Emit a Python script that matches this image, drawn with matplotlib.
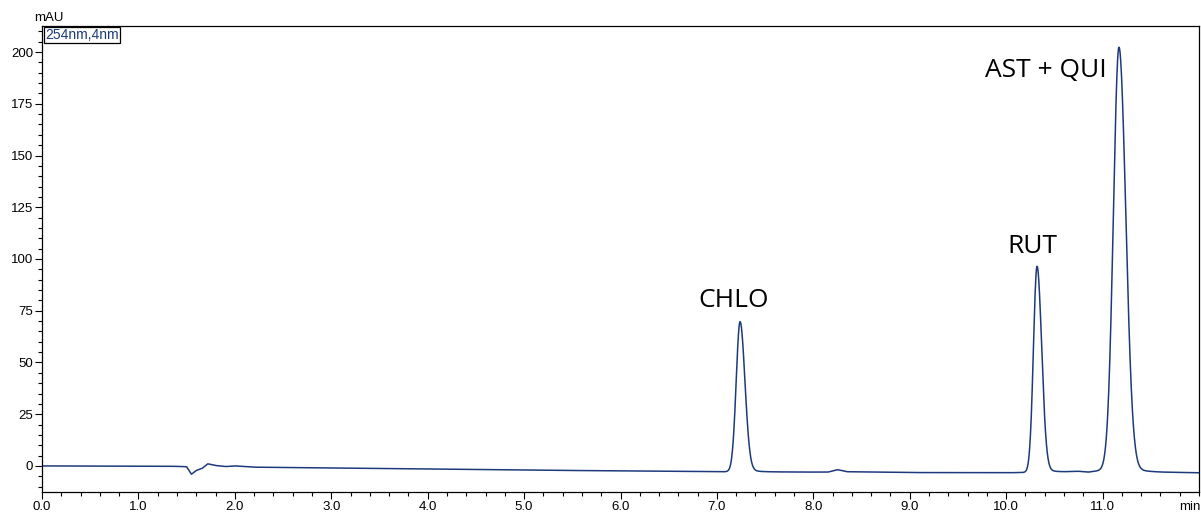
import numpy as np
import matplotlib
matplotlib.use("Agg")
import matplotlib.pyplot as plt
from matplotlib.ticker import MultipleLocator, FormatStrFormatter

# Peak table (retention time in min, height in mAU above baseline, widths in min)
peak_names = ["CHLO", "RUT", "AST + QUI"]
peak_times = [7.24, 10.32, 11.17]
peak_heights = [72.5, 99.5, 204.5]
peak_sigma_left = [0.040, 0.037, 0.058]
peak_sigma_right = [0.050, 0.048, 0.070]
peak_tail_height = [2.5, 3.0, 5.0]
peak_tail_tau = [0.09, 0.09, 0.10]

# Baseline readings (min, mAU)
base_t = [0.0, 1.0, 1.40, 1.50, 1.55, 1.60, 1.66, 1.72, 1.80, 1.90, 2.00, 2.20, 3.0,
          5.0, 7.0, 8.15, 8.25, 8.35, 9.0, 10.0, 10.6, 10.75, 10.85, 10.95, 11.02,
          11.6, 12.0]
base_v = [0.0, -0.1, -0.2, -0.4, -4.0, -2.2, -1.2, 1.0, 0.2, -0.3, 0.0, -0.6, -1.0,
          -2.0, -2.8, -3.0, -1.8, -2.8, -3.2, -3.3, -2.9, -2.6, -3.0, -2.4, -2.0,
          -3.0, -3.3]

# Label anchors (min, mAU)
label_t = [7.17, 10.27, 10.41]
label_v = [80.0, 106.0, 191.0]

t = np.linspace(0, 12, 6001)
signal = np.interp(t, base_t, base_v)
for tr, h, sl, sr, th, tau in zip(peak_times, peak_heights, peak_sigma_left,
                                  peak_sigma_right, peak_tail_height, peak_tail_tau):
    s = np.where(t < tr, sl, sr)
    signal = signal + h * np.exp(-0.5 * ((t - tr) / s) ** 2)
    dt = t - tr
    onset = 1.0 / (1.0 + np.exp(-(dt - 0.06) / 0.015))
    signal = signal + th * np.exp(-np.clip(dt, 0, None) / tau) * onset

W, H = 1201, 515
fig = plt.figure(figsize=(W / 100, H / 100), dpi=100)
ax = fig.add_axes([42 / W, 1 - 492 / H, (1199 - 42) / W, (492 - 26) / H])

line_color = "#1c3a7c"
ax.plot(t, signal, color=line_color, lw=1.1)

ax.set_xlim(0, 12)
ax.set_ylim(-12.6, 212.6)
ax.xaxis.set_minor_locator(MultipleLocator(0.2))
ax.yaxis.set_minor_locator(MultipleLocator(5))

tick_font = "Liberation Sans"
ax.set_xticks(np.arange(0, 12, 1.0))
ax.set_xticklabels([f"{v:.1f}" for v in np.arange(0, 12, 1.0)], fontfamily=tick_font)
ax.set_yticks(np.arange(0, 201, 25))
ax.set_yticklabels([str(v) for v in range(0, 201, 25)], fontfamily=tick_font)
ax.tick_params(axis="both", which="major", direction="out", length=5, width=0.8,
               labelsize=9.5, pad=1.5, colors="black")
ax.tick_params(axis="both", which="minor", direction="out", length=3, width=0.8)

for sp in ax.spines.values():
    sp.set_linewidth(0.9)
    sp.set_color("black")

fig.text(49 / W, 1 - 18 / H, "mAU", ha="center", va="center",
         fontsize=9.5, fontfamily=tick_font, color="black")
fig.text(1190 / W, 1 - 507 / H, "min", ha="center", va="center",
         fontsize=9.5, fontfamily=tick_font, color="black")
ax.text(0.0025, 0.996, "254nm,4nm", transform=ax.transAxes, ha="left", va="top",
        fontsize=10, fontfamily=tick_font, color=line_color,
        bbox=dict(boxstyle="square,pad=0.08", fc="white", ec="black", lw=0.9))

for name, lt, lv in zip(peak_names, label_t, label_v):
    ax.text(lt, lv, name, ha="center", va="center", fontsize=19,
            fontfamily="Open Sans", color="black")

fig.savefig("out.png", dpi=100)
